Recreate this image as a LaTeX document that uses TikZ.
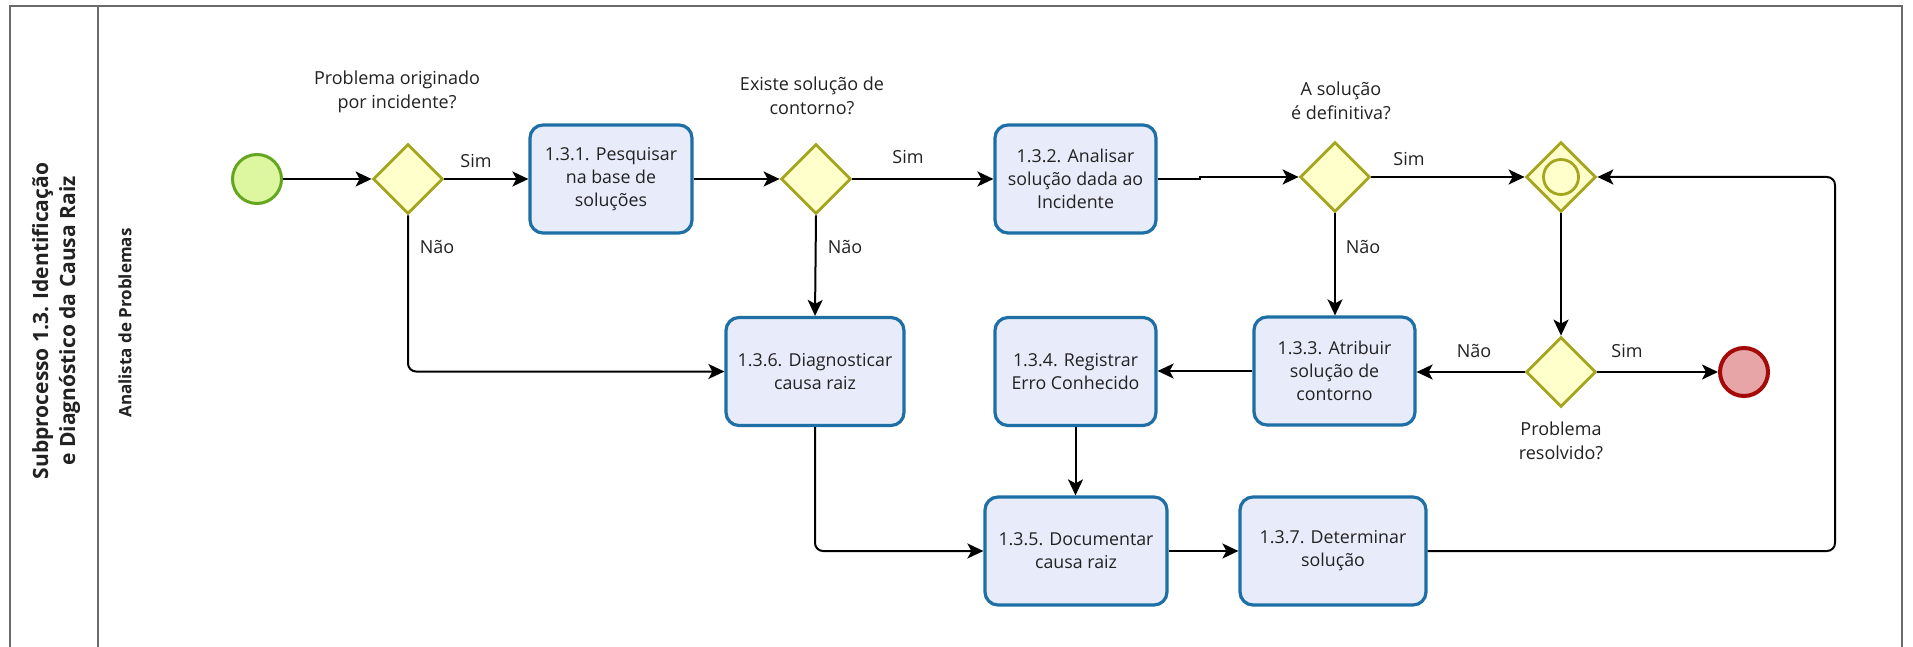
\documentclass[tikz,border=0pt]{standalone}
\usepackage{fontspec}
\setmainfont{Open Sans}
\usetikzlibrary{shapes.geometric,arrows.meta}
\definecolor{taskfill}{HTML}{E8ECFA}
\definecolor{taskdraw}{HTML}{1D6FA5}
\definecolor{gwfill}{HTML}{FFFFCC}
\definecolor{gwdraw}{HTML}{A5A520}
\definecolor{startfill}{HTML}{DDF7A1}
\definecolor{startdraw}{HTML}{64A620}
\definecolor{endfill}{HTML}{E8A5A8}
\definecolor{enddraw}{HTML}{A50A0A}
\definecolor{pooldraw}{HTML}{6A6A6A}
\definecolor{txt}{HTML}{222222}
\begin{document}
\begin{tikzpicture}[x=1pt,y=-1pt,
  task/.style={draw=taskdraw, fill=taskfill, line width=3.2pt, rounded corners=13pt,
    minimum height=108pt, align=center, inner sep=2pt, text=txt,
    font=\fontsize{17.8}{23}\selectfont},
  gw/.style={diamond, draw=gwdraw, fill=gwfill, line width=2.8pt, minimum width=70pt,
    minimum height=70pt, inner sep=0pt},
  startev/.style={circle, draw=startdraw, fill=startfill, line width=3pt, minimum size=49pt, inner sep=0pt},
  endev/.style={circle, draw=enddraw, fill=endfill, line width=4pt, minimum size=48pt, inner sep=0pt},
  lbl/.style={text=txt, font=\fontsize{18}{23.5}\selectfont, align=center, inner sep=0pt},
  flow/.style={draw=black, line width=2pt, -{Stealth[length=16pt,width=15pt,inset=4pt]}},
  pool/.style={draw=pooldraw, line width=1.6pt}
]
\useasboundingbox (0,0) rectangle (1913,647);
\fill[white] (0,0) rectangle (1913,647);
% pool
\draw[pool] (10,647) -- (10,6) -- (1902,6) -- (1902,647);
\draw[pool] (98,6) -- (98,647);
\node[rotate=90, align=center, text=txt, font=\bfseries\fontsize{21}{27}\selectfont] (title) at (56,321)
  {Subprocesso 1.3. Identificação\\e Diagnóstico da Causa Raiz};
\node[rotate=90, text=txt, font=\bfseries\fontsize{17}{20}\selectfont] (lane) at (125,323) {Analista de Problemas};

% nodes
\node[startev] (start) at (257,179) {};
\node[gw] (g1) at (408,179) {};
\node[task, minimum width=162pt] (t131) at (611,179) {1.3.1. Pesquisar\\na base de\\soluções};
\node[gw] (g2) at (816,179) {};
\node[task, minimum width=161pt] (t132) at (1075.5,179) {1.3.2. Analisar\\solução dada ao\\Incidente};
\node[gw] (g3) at (1335,177) {};
\node[gw] (g4) at (1561,177) {};
\draw[draw=gwdraw, line width=2.8pt] (g4.center) circle (17.5);
\node[gw] (g5) at (1561,372) {};
\node[endev] (end) at (1744,372) {};
\node[task, minimum width=161pt] (t133) at (1334.5,371) {1.3.3. Atribuir\\solução de\\contorno};
\node[task, minimum width=161pt] (t134) at (1075.5,371.5) {1.3.4. Registrar\\Erro Conhecido};
\node[task, minimum width=178pt] (t136) at (815,371.5) {1.3.6. Diagnosticar\\causa raiz};
\node[task, minimum width=182pt] (t135) at (1076,551) {1.3.5. Documentar\\causa raiz};
\node[task, minimum width=186pt] (t137) at (1333,551) {1.3.7. Determinar\\solução};

% question labels
\node[lbl] (q1) at (397,92) {Problema originado\\por incidente?};
\node[lbl] (q2) at (812,96) {Existe solução de\\contorno?};
\node[lbl] (q3) at (1341,101) {A solução\\é definitiva?};
\node[lbl] (q5) at (1561,441) {Problema\\resolvido?};

% edge labels
\node[lbl] (s1) at (476,161) {Sim};
\node[lbl] (n1) at (437,247) {Não};
\node[lbl] (s2) at (908,157) {Sim};
\node[lbl] (n2) at (845,247) {Não};
\node[lbl] (s3) at (1409,159) {Sim};
\node[lbl] (n3) at (1363,247) {Não};
\node[lbl] (s5) at (1627,351) {Sim};
\node[lbl] (n5) at (1474,351) {Não};

% helper coordinates
\coordinate (j1) at (1200,179);
\coordinate (j2) at (1200,177);
\coordinate (loop) at (1835,177);

% connectors
\draw[flow] (start) -- (g1);
\draw[flow] (g1) -- (t131);
\draw[flow] (t131) -- (g2);
\draw[flow] (g2) -- (t132);
\draw[flow] (t132.east) -- (j1) -- (j2) -- (g3.west);
\draw[flow] (g3) -- (g4);
\draw[flow, rounded corners=8pt] (g1.south) |- (t136.west);
\draw[flow] (g2.south) -- (t136.north);
\draw[flow] (g3.south) -- (g3.south |- t133.north);
\draw[flow] (g4.south) -- (g5.north);
\draw[flow] (g5.west) -- (t133.east |- g5.west);
\draw[flow] (g5.east) -- (end.west);
\draw[flow] (t133.west) -- (t134.east |- t133.west);
\draw[flow] (t134.south) -- (t135.north -| t134.south);
\draw[flow, rounded corners=8pt] (t136.south) |- (t135.west);
\draw[flow] (t135.east) -- (t137.west);
\draw[flow, rounded corners=8pt] (t137.east) -| (loop) -- (g4.east);
\end{tikzpicture}
\end{document}
